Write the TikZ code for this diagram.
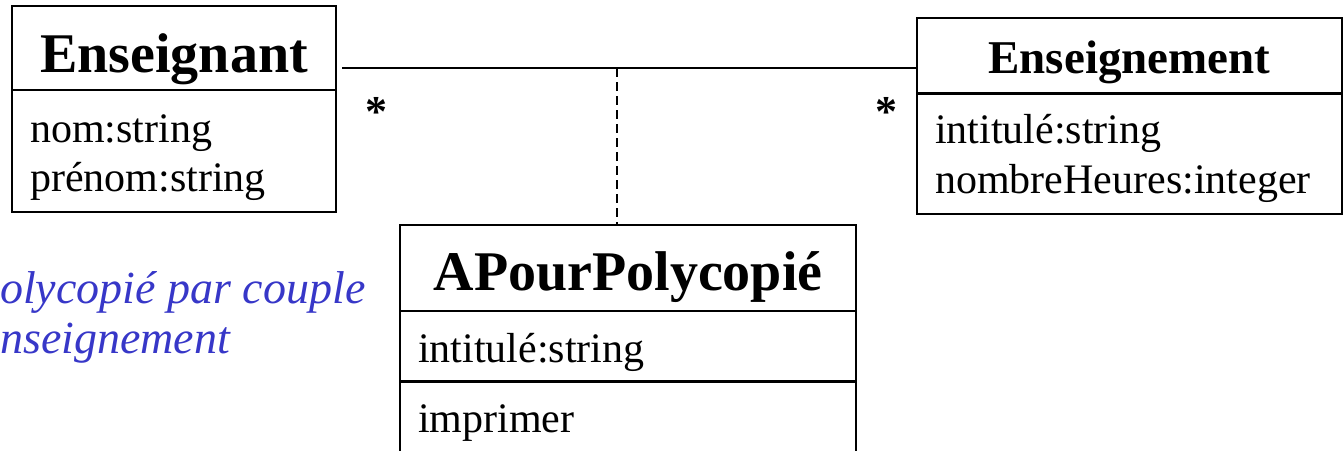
\documentclass[tikz,border=0pt]{standalone}
\usepackage{fontspec}
\setmainfont{Liberation Serif}
\definecolor{notebleu}{RGB}{55,55,200}
\tikzset{>=stealth}
\tikzset{
  cbox/.style 2 args={draw, line width=1.5pt, minimum width=#1pt, minimum height=#2pt, inner sep=0pt, outer sep=0pt, anchor=north west},
  titre/.style={anchor=base, font=\fontsize{56}{60}\selectfont\bfseries},
  attr/.style={anchor=base west, inner sep=0pt, font=\fontsize{42}{48}\selectfont},
  note/.style={anchor=base west, inner sep=0pt, text=notebleu, font=\fontsize{46}{52}\selectfont\itshape},
  mult/.style={anchor=base, inner sep=0pt, font=\fontsize{44}{48}\selectfont\bfseries},
}

\begin{document}
\begin{tikzpicture}[x=1pt,y=-1pt]
\useasboundingbox (0,0) rectangle (1344,450);
\clip (0,0) rectangle (1344,450);
\node[cbox={324}{84}] (ensH) at (12,6) {};
\node[cbox={324}{122}] (ensA) at (ensH.south west) {};
\node[titre] (ensT) at (174,72) {Enseignant};
\node[attr] (ensA1) at (30,142) {nom:string};
\node[attr] (ensA2) at (30,191) {prénom:string};
\node[cbox={425}{75}] (engH) at (917,18) {};
\node[cbox={425}{121}] (engA) at (engH.south west) {};
\draw[line width=3pt] (engH.south west) -- (engH.south east);
\node[titre, font=\fontsize{47}{52}\selectfont\bfseries] (engT) at (1129.5,73) {Enseignement};
\node[attr] (engA1) at (935,143) {intitulé:string};
\node[attr] (engA2) at (935,193) {nombreHeures:integer};
\node[cbox={456}{86}] (apH) at (400,225) {};
\node[cbox={456}{70}] (apA) at (apH.south west) {};
\node[cbox={456}{100}] (apO) at (apA.south west) {};
\draw[line width=3pt] (apA.south west) -- (apA.south east);
\node[titre] (apT) at (628,290) {APourPolycopié};
\node[attr] (apA1) at (418,362) {intitulé:string};
\node[attr] (apO1) at (418,432) {imprimer};
\coordinate (assocG) at (342,68);
\coordinate (assocM) at (617,68);
\draw[line width=1.5pt] (assocG) -- (assocG -| engH.west);
\draw[line width=1.5pt, dash pattern=on 9pt off 5pt] (assocM) -- (assocM |- apH.north);
\node[mult] (multG) at (376,126) {*};
\node[mult] (multD) at (886,126) {*};
\node[note] (note1) at (0,303) {olycopié par couple};
\node[note] (note2) at (0,353) {nseignement};
\end{tikzpicture}
\end{document}
